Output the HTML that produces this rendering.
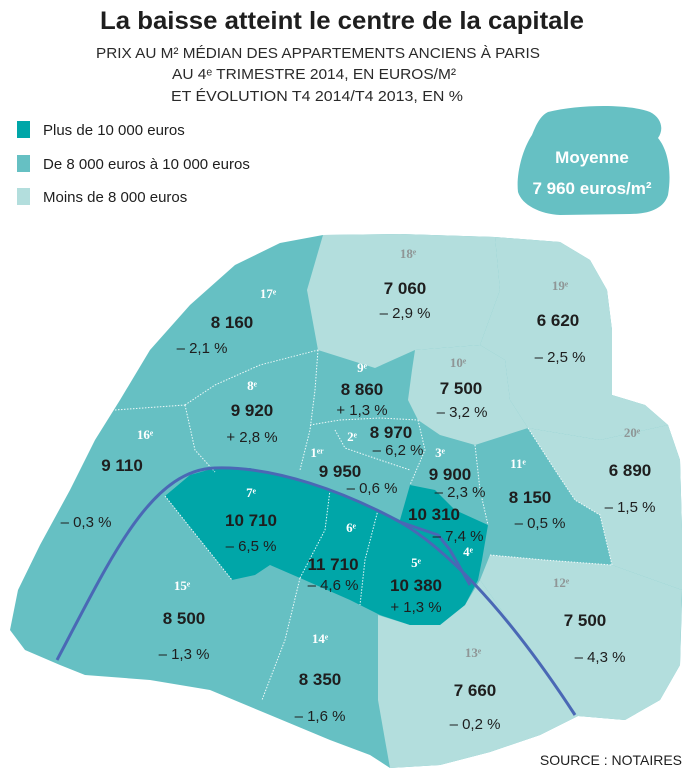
<!DOCTYPE html>
<html><head><meta charset="utf-8"><style>
html,body{margin:0;padding:0;background:#fff;}
svg{display:block;font-family:"Liberation Sans Narrow","Liberation Sans",sans-serif;}
.n{font-size:17px;font-weight:bold;fill:#1e1e1e;text-anchor:middle;}
.p{font-size:15px;fill:#1e1e1e;text-anchor:middle;}
.lw{font-family:"Liberation Serif",serif;font-size:13px;font-weight:bold;fill:#fff;text-anchor:middle;}
.lg{font-family:"Liberation Serif",serif;font-size:13px;font-weight:bold;fill:#8f9696;text-anchor:middle;}
.dot{fill:none;stroke:#fff;stroke-width:1;stroke-dasharray:1.5 1.5;opacity:.9;}
</style></head><body>
<svg width="688" height="776" viewBox="0 0 688 776">
<text x="342" y="29" font-size="25" font-weight="bold" fill="#1e1e1e" text-anchor="middle" textLength="484" lengthAdjust="spacingAndGlyphs">La baisse atteint le centre de la capitale</text>
<g font-size="15" fill="#2a2a2a" text-anchor="middle">
<text x="318" y="58" textLength="444" lengthAdjust="spacingAndGlyphs">PRIX AU M² MÉDIAN DES APPARTEMENTS ANCIENS À PARIS</text>
<text x="314" y="79" textLength="284" lengthAdjust="spacingAndGlyphs">AU 4ᵉ TRIMESTRE 2014, EN EUROS/M²</text>
<text x="317" y="101" textLength="292" lengthAdjust="spacingAndGlyphs">ET ÉVOLUTION T4 2014/T4 2013, EN %</text>
</g>
<g>
<rect x="17" y="121" width="13" height="17" fill="#00a6a8"/>
<text x="43" y="135" font-size="15" fill="#1e1e1e">Plus de 10 000 euros</text>
<rect x="17" y="155" width="13" height="17" fill="#66c0c3"/>
<text x="43" y="169" font-size="15" fill="#1e1e1e">De 8 000 euros à 10 000 euros</text>
<rect x="17" y="188" width="13" height="17" fill="#b3dedd"/>
<text x="43" y="202" font-size="15" fill="#1e1e1e">Moins de 8 000 euros</text>
</g>
<g>
<path d="M548,112 C580,104 630,104 650,112 C662,118 664,130 658,138 C668,150 672,172 668,195 C664,208 650,214 630,214 L560,215 C540,214 522,205 518,192 C516,175 522,150 532,135 C536,125 540,116 548,112 Z" fill="#66c0c3"/>
<text x="592" y="163" font-size="17" font-weight="bold" fill="#fff" text-anchor="middle">Moyenne</text>
<text x="592" y="194" font-size="17" font-weight="bold" fill="#fff" text-anchor="middle">7 960 euros/m²</text>
</g>
<g>
<path fill="#66c0c3" d="M323,235 L400,234 L495,237 L560,242 L590,260 L607,290 L612,330 L612,395 L645,405 L668,425 L680,460 L682,530 L682,600 L680,665 L660,700 L625,720 L578,716 L540,735 L490,752 L440,765 L390,768 L370,755 L330,740 L270,715 L210,690 L150,680 L85,675 L60,665 L25,650 L10,630 L18,590 L40,545 L70,490 L95,440 L120,400 L150,350 L190,305 L235,265 L280,243 Z"/>
<polygon fill="#b3dedd" points="323,235 400,234 495,237 500,290 480,345 415,350 375,368 318,350 307,290"/>
<polygon fill="#b3dedd" points="495,237 560,242 590,260 607,290 612,330 612,395 645,405 668,425 600,440 528,428 510,400 505,360 480,345 500,290"/>
<polygon fill="#b3dedd" points="415,350 480,345 505,360 510,400 528,428 475,445 440,435 418,420 408,400 412,370"/>
<polygon fill="#b3dedd" points="668,425 680,460 682,530 682,590 612,565 600,515 575,500 555,470 528,428 600,440"/>
<polygon fill="#b3dedd" points="490,555 545,560 612,565 682,590 680,665 660,700 625,720 578,716 540,665 505,615 480,580"/>
<polygon fill="#b3dedd" points="480,580 505,615 540,665 578,716 540,735 490,752 440,765 390,768 385,740 378,700 378,615 410,625 440,625 465,605"/>
<polygon fill="#00a6a8" points="165,496 190,475 215,468 250,468 300,480 335,492 375,508 400,520 410,485 435,490 455,510 488,525 482,560 478,580 465,605 440,625 410,625 380,615 350,600 300,578 270,565 255,575 232,580 200,540"/>
<g>
<polyline class="dot" points="115,410 185,405"/>
<polyline class="dot" points="185,405 215,385 260,365 318,350"/>
<polyline class="dot" points="185,405 195,450 215,472"/>
<polyline class="dot" points="318,350 315,390 310,430 300,470"/>
<polyline class="dot" points="310,425 340,420 380,418 418,420"/>
<polyline class="dot" points="335,430 345,448 380,460 410,470"/>
<polyline class="dot" points="418,420 425,450 410,485"/>
<polyline class="dot" points="475,445 480,490 488,525"/>
<polyline class="dot" points="528,428 555,470 575,500 600,515 612,565"/>
<polyline class="dot" points="490,555 545,560 612,565"/>
<polyline class="dot" points="300,578 285,640 262,700"/>
<polyline class="dot" points="330,490 325,530 300,578"/>
<polyline class="dot" points="378,510 365,560 360,605"/>
<polyline class="dot" points="165,496 200,540 232,580"/>
</g>
<path fill="none" stroke="#4a68b5" stroke-width="3" d="M57,660 C110,560 150,470 215,468 C275,466 345,492 400,522 C440,545 500,600 575,715"/>
<path fill="none" stroke="#4a68b5" stroke-width="3" d="M400,522 L438,535 L450,550 L470,585"/>
</g>
<g>
<text class="lg" x="408" y="258">18ᵉ</text><text class="n" x="405" y="294">7 060</text><text class="p" x="405" y="318">– 2,9 %</text>
<text class="lw" x="268" y="298">17ᵉ</text><text class="n" x="232" y="328">8 160</text><text class="p" x="202" y="353">– 2,1 %</text>
<text class="lg" x="560" y="290">19ᵉ</text><text class="n" x="558" y="326">6 620</text><text class="p" x="560" y="362">– 2,5 %</text>
<text class="lw" x="362" y="372">9ᵉ</text><text class="n" x="362" y="395">8 860</text><text class="p" x="362" y="415">+ 1,3 %</text>
<text class="lg" x="458" y="367">10ᵉ</text><text class="n" x="461" y="394">7 500</text><text class="p" x="462" y="417">– 3,2 %</text>
<text class="lw" x="252" y="390">8ᵉ</text><text class="n" x="252" y="416">9 920</text><text class="p" x="252" y="442">+ 2,8 %</text>
<text class="lw" x="145" y="439">16ᵉ</text><text class="n" x="122" y="471">9 110</text><text class="p" x="86" y="527">– 0,3 %</text>
<text class="lw" x="317" y="457">1ᵉʳ</text><text class="n" x="340" y="477">9 950</text><text class="p" x="372" y="493">– 0,6 %</text>
<text class="lw" x="352" y="441">2ᵉ</text><text class="n" x="391" y="438">8 970</text><text class="p" x="398" y="455">– 6,2 %</text>
<text class="lw" x="440" y="457">3ᵉ</text><text class="n" x="450" y="480">9 900</text><text class="p" x="460" y="497">– 2,3 %</text>
<text class="lw" x="518" y="468">11ᵉ</text><text class="n" x="530" y="503">8 150</text><text class="p" x="540" y="528">– 0,5 %</text>
<text class="lg" x="632" y="437">20ᵉ</text><text class="n" x="630" y="476">6 890</text><text class="p" x="630" y="512">– 1,5 %</text>
<text class="lw" x="251" y="497">7ᵉ</text><text class="n" x="251" y="526">10 710</text><text class="p" x="251" y="551">– 6,5 %</text>
<text class="lw" x="351" y="532">6ᵉ</text><text class="n" x="333" y="570">11 710</text><text class="p" x="333" y="590">– 4,6 %</text>
<text class="n" x="434" y="520">10 310</text><text class="p" x="458" y="541">– 7,4 %</text>
<text class="lw" x="468" y="556">4ᵉ</text>
<text class="lw" x="416" y="567">5ᵉ</text><text class="n" x="416" y="591">10 380</text><text class="p" x="416" y="612">+ 1,3 %</text>
<text class="lg" x="561" y="587">12ᵉ</text><text class="n" x="585" y="626">7 500</text><text class="p" x="600" y="662">– 4,3 %</text>
<text class="lw" x="182" y="590">15ᵉ</text><text class="n" x="184" y="624">8 500</text><text class="p" x="184" y="659">– 1,3 %</text>
<text class="lw" x="320" y="643">14ᵉ</text><text class="n" x="320" y="685">8 350</text><text class="p" x="320" y="721">– 1,6 %</text>
<text class="lg" x="473" y="657">13ᵉ</text><text class="n" x="475" y="696">7 660</text><text class="p" x="475" y="729">– 0,2 %</text>
</g>
<text x="682" y="765" font-size="14" fill="#1e1e1e" text-anchor="end">SOURCE : NOTAIRES</text>
</svg>
</body></html>
